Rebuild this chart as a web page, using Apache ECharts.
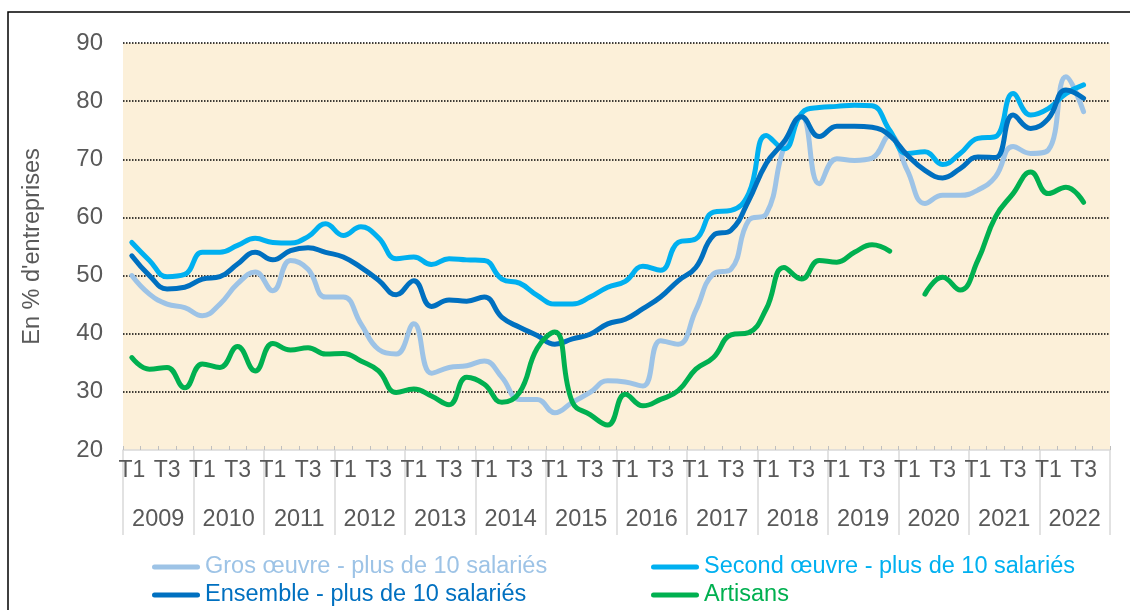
<!DOCTYPE html>
<html>
<head>
<meta charset="utf-8">
<script src="https://cdn.jsdelivr.net/npm/echarts@6/dist/echarts.min.js"></script>
<style>
  html, body { margin: 0; padding: 0; background: #fff; }
  #chart { width: 1130px; height: 610px; }
</style>
</head>
<body>
<div id="chart"></div>
<script>
const years = ["2009", "2010", "2011", "2012", "2013", "2014", "2015", "2016", "2017", "2018", "2019", "2020", "2021", "2022"];
const quarterNames = ["T1", "T2", "T3", "T4"];
const quarters = years.flatMap(() => quarterNames);

const yTicks = [20, 30, 40, 50, 60, 70, 80, 90];

// 2009 T1 -> 2022 T3
const grosOeuvre = [
  50.0, 46.8, 45.1, 44.5, 43.1, 45.1, 48.6, 50.6, 47.4, 52.6, 51.1, 46.3, 46.3, 41.7,
  37.3, 36.5, 41.7, 33.2, 34.2, 34.5, 35.3, 32.5, 28.7, 28.7, 26.4, 28.2, 29.9, 31.9,
  31.7, 31.0, 38.8, 38.2, 44.0, 50.3, 51.1, 59.5, 60.6, 72.0, 77.3, 65.8, 70.1, 69.8,
  70.2, 74.1, 68.1, 62.4, 63.8, 63.8, 64.7, 67.0, 72.2, 71.0, 71.6, 84.2, 78.2
];
const secondOeuvre = [
  55.7, 52.6, 49.8, 50.2, 54.0, 54.0, 55.2, 56.4, 55.7, 55.6, 56.7, 58.9, 56.9, 58.4,
  56.5, 52.9, 53.2, 51.9, 52.9, 52.7, 52.6, 49.4, 48.7, 46.6, 45.1, 45.1, 46.3, 48.0,
  49.0, 51.6, 50.9, 55.7, 56.3, 60.9, 61.2, 64.1, 74.1, 71.8, 77.9, 78.9, 79.1, 79.3,
  79.2, 75.0, 71.0, 71.3, 69.1, 71.0, 73.6, 73.9, 81.3, 77.6, 78.7, 81.3, 82.8
];
const ensemble = [
  53.4, 50.0, 47.7, 48.0, 49.4, 49.8, 52.0, 54.0, 52.7, 54.3, 54.8, 54.0, 53.2, 51.4,
  49.2, 46.7, 49.1, 44.7, 45.8, 45.6, 46.3, 42.8, 41.1, 39.7, 38.2, 39.1, 39.9, 41.7,
  42.5, 44.3, 46.3, 49.1, 51.4, 56.9, 57.8, 62.9, 69.3, 73.0, 77.3, 73.9, 75.7, 75.7,
  75.5, 74.1, 70.7, 68.1, 66.8, 68.4, 70.4, 70.3, 77.6, 75.3, 77.0, 81.9, 80.5
];
const artisans = [
  35.9, 33.9, 34.2, 30.7, 34.8, 34.2, 37.8, 33.6, 38.3, 37.2, 37.6, 36.5, 36.6, 35.3,
  33.6, 29.9, 30.5, 29.3, 27.8, 32.5, 31.3, 28.2, 29.9, 37.5, 40.3, 28.2, 26.1, 24.3,
  29.6, 27.6, 28.7, 30.2, 33.9, 35.9, 39.8, 40.2, 44.3, 51.4, 49.4, 52.6, 52.3, 54.0,
  55.3, 54.2, null, 46.8, 49.7, 47.5, 52.6, 60.1, 64.1, 67.8, 64.1, 65.2, 62.6
];

const FONT = "Liberation Sans, Arial, sans-serif";
const GREY_TEXT = "#595959";
const AXIS_GREY = "#D9D9D9";

const lines = [
  { name: "Gros œuvre - plus de 10 salariés", data: grosOeuvre, color: "#9DC3E6" },
  { name: "Second œuvre - plus de 10 salariés", data: secondOeuvre, color: "#00B0F0" },
  { name: "Ensemble - plus de 10 salariés", data: ensemble, color: "#0070C0" },
  { name: "Artisans", data: artisans, color: "#00B050" },
];

const legendItem = (i) => ({ name: lines[i].name, textStyle: { color: lines[i].color } });
const legendBase = {
  orient: "vertical",
  top: 555,
  padding: 0,
  icon: "path://M2.5,0 L45.5,0 A2.5,2.5 0 0 1 45.5,5 L2.5,5 A2.5,2.5 0 0 1 2.5,0 Z",
  itemWidth: 48,
  itemHeight: 5,
  itemGap: 4,
  selectedMode: false,
  textStyle: { fontFamily: FONT, fontSize: 23.5 },
};

const chart = echarts.init(document.getElementById("chart"));
chart.setOption({
  animation: false,
  backgroundColor: "#fff",
  textStyle: { fontFamily: FONT },
  graphic: [
    {
      type: "rect",
      shape: { x: 8, y: 12, width: 1140, height: 620 },
      style: { fill: "none", stroke: "#000", lineWidth: 1.5 },
      silent: true,
    },
  ],
  legend: [
    Object.assign({ left: 152, data: [legendItem(0), legendItem(2)] }, legendBase),
    Object.assign({ left: 651, data: [legendItem(1), legendItem(3)] }, legendBase),
  ],
  grid: {
    left: 123,
    right: 20,
    top: 43,
    bottom: 160,
    show: true,
    backgroundColor: "#FCF0D9",
    borderWidth: 0,
  },
  xAxis: [
    {
      type: "category",
      data: quarters,
      boundaryGap: true,
      axisLine: { lineStyle: { color: AXIS_GREY, width: 1.5 } },
      axisTick: { show: true, inside: true, length: 4, interval: 0, lineStyle: { color: "#BFBFBF" } },
      axisLabel: { interval: 1, margin: 9, color: GREY_TEXT, fontSize: 23, fontFamily: FONT },
      splitLine: { show: false },
    },
    {
      type: "category",
      data: years,
      position: "bottom",
      boundaryGap: true,
      axisLine: { show: false },
      axisTick: { show: true, length: 85, interval: 0, lineStyle: { color: AXIS_GREY, width: 1.5 } },
      axisLabel: { interval: 0, margin: 58, color: GREY_TEXT, fontSize: 23.5, fontFamily: FONT },
      splitLine: { show: false },
    },
  ],
  yAxis: {
    type: "value",
    min: yTicks[0],
    max: yTicks[yTicks.length - 1],
    interval: 10,
    name: "En % d'entreprises",
    nameLocation: "middle",
    nameGap: 78,
    nameTextStyle: { color: GREY_TEXT, fontSize: 23.5, fontFamily: FONT },
    axisLine: { show: false },
    axisTick: { show: false },
    axisLabel: { margin: 20, color: GREY_TEXT, fontSize: 24, fontFamily: FONT },
    splitLine: {
      show: true,
      showMinLine: false,
      lineStyle: { color: "#000", width: 1.5, type: [1.5, 1.5] },
    },
  },
  series: lines.map((s) => ({
    name: s.name,
    type: "line",
    xAxisIndex: 0,
    data: s.data,
    smooth: 0.45,
    symbol: "none",
    connectNulls: false,
    itemStyle: { color: s.color },
    lineStyle: { color: s.color, width: 5, cap: "round", join: "round" },
  })),
});
</script>
</body>
</html>
